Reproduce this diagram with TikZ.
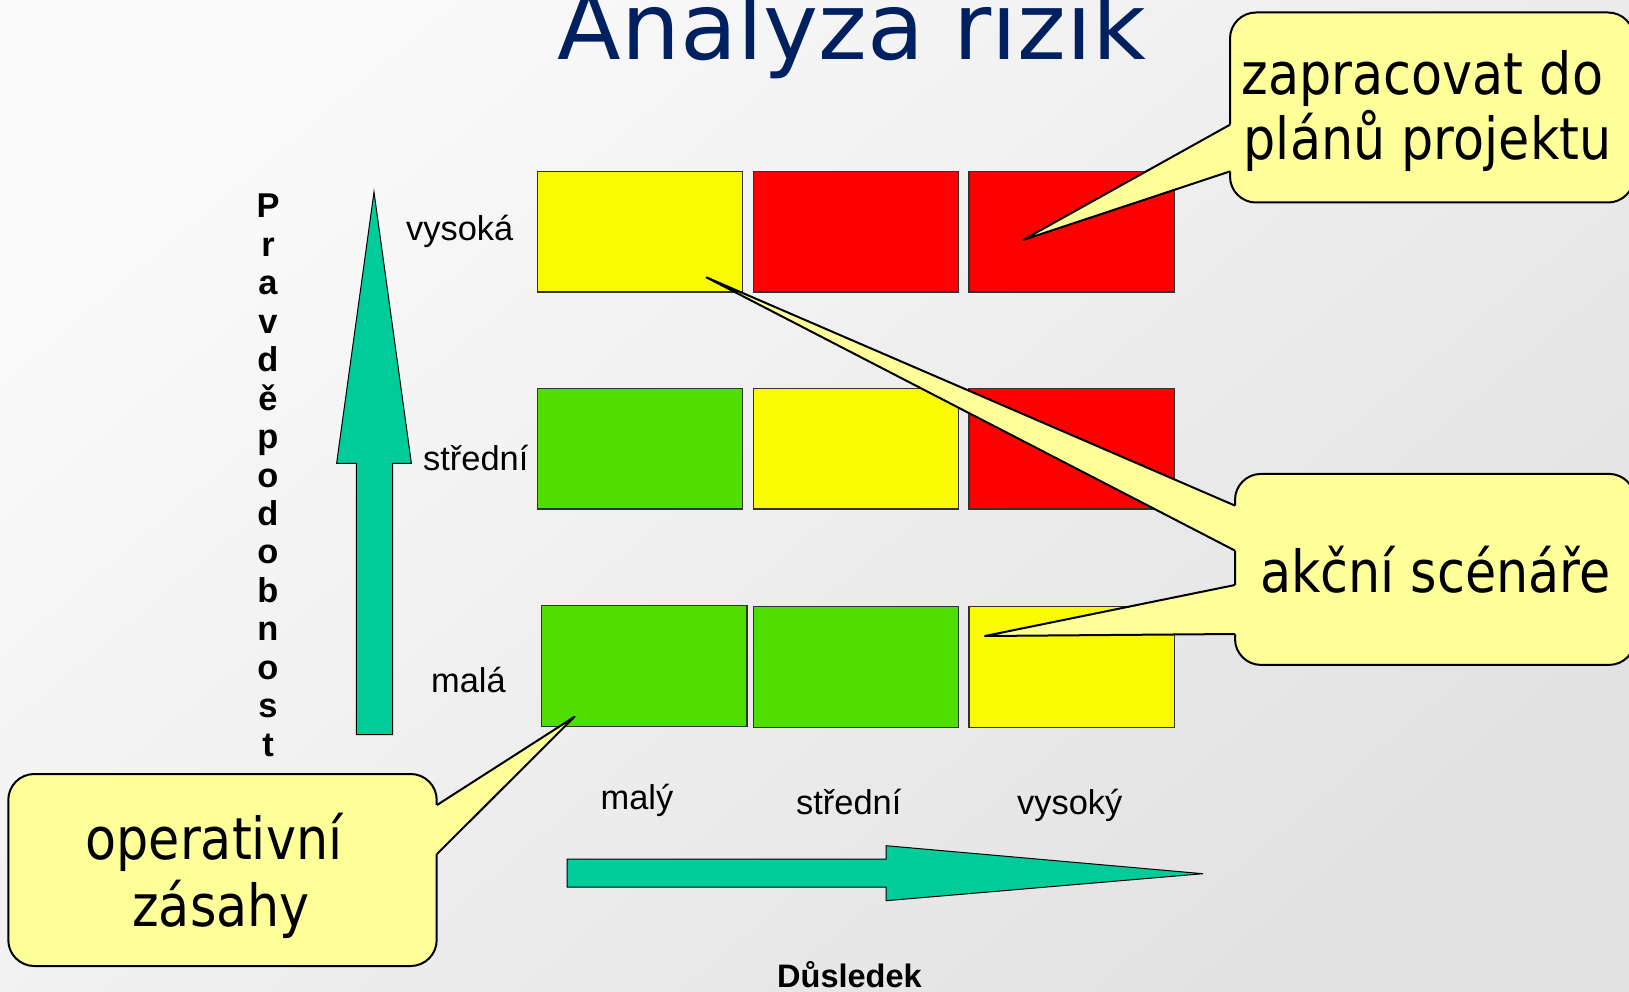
\documentclass[tikz,border=0pt]{standalone}
\usepackage{fontspec}
\newfontfamily\tahfont{DejaVu Sans}[FakeStretch=0.875]
\newfontfamily\verdfont{DejaVu Sans}
\newfontfamily\arifont{Liberation Sans}
\definecolor{titlenavy}{RGB}{0,32,96}
\definecolor{cellyellow}{RGB}{250,250,0}
\definecolor{cellred}{RGB}{255,0,0}
\definecolor{cellgreen}{RGB}{80,221,0}
\definecolor{cellborder}{RGB}{50,50,50}
\definecolor{arrowteal}{RGB}{0,204,153}
\definecolor{callfill}{RGB}{255,255,153}
\definecolor{bglight}{RGB}{250,250,250}
\definecolor{bgdark}{RGB}{226,226,226}
\begin{document}
\begin{tikzpicture}[x=1pt,y=-1pt,
  cell/.style={draw=cellborder, line width=1.3pt, minimum width=205.5pt, minimum height=120.5pt, inner sep=0pt},
  bigarrow/.style={fill=arrowteal, draw=black, line width=1pt, line join=miter},
  callbox/.style={fill=callfill, draw=black, line width=2pt, rounded corners=26pt, inner sep=0pt},
  wedgefill/.style={fill=callfill},
  wedgeline/.style={draw=black, line width=2pt, line join=round},
  calltext/.style={font=\tahfont\fontsize{58}{68}\selectfont, inner sep=0pt},
  axislab/.style={font=\arifont\fontsize{34.4}{40}\selectfont, inner sep=0pt},
  axisbold/.style={font=\arifont\bfseries\fontsize{34.4}{40}\selectfont, inner sep=0pt},
  axisboldb/.style={font=\arifont\bfseries\fontsize{32.5}{38}\selectfont, inner sep=0pt},
  titletext/.style={font=\verdfont\fontsize{93}{100}\selectfont, text=titlenavy, inner sep=0pt}
]
\useasboundingbox (0,0) rectangle (1629,992);
\clip (0,0) rectangle (1629,992);
\shade[top color=bglight, bottom color=bgdark, shading angle=40] (0,0) rectangle (1629,992);

% title
\node[titletext, anchor=base] (title) at (852,60) {Analyza rizik};

% matrix cells
\node[cell, fill=cellyellow] (c11) at (640,231.6) {};
\node[cell, fill=cellred]    (c12) at (856,231.6) {};
\node[cell, fill=cellred]    (c13) at (1071.6,231.6) {};
\node[cell, fill=cellgreen]  (c21) at (640,448.8) {};
\node[cell, fill=cellyellow] (c22) at (856,448.8) {};
\node[cell, fill=cellred]    (c23) at (1071.6,448.8) {};
\node[cell, fill=cellgreen]  (c31) at (644.2,666) {};
\node[cell, fill=cellgreen]  (c32) at (856,666.9) {};
\node[cell, fill=cellyellow] (c33) at (1071.6,666.9) {};

% axis arrows
\draw[bigarrow] (374,192) -- (411.4,463.4) -- (392.7,463.4) -- (392.7,734.5)
  -- (356.3,734.5) -- (356.3,463.4) -- (336.6,463.4) -- cycle;
\draw[bigarrow] (567,859) -- (886,859) -- (886,845.7) -- (1203,873.7)
  -- (886,900.7) -- (886,887) -- (567,887) -- cycle;

% row labels
\node[axislab, anchor=base west] (rh) at (406,241) {vysoká};
\node[axislab, anchor=base west] (rm) at (423,470.6) {střední};
\node[axislab, anchor=base west] (rl) at (431,692) {malá};
% column labels
\node[axislab, anchor=base west] (kl) at (600.5,809) {malý};
\node[axislab, anchor=base west] (km) at (796,814.5) {střední};
\node[axislab, anchor=base west] (kh) at (1017,814.5) {vysoký};
\node[axisboldb, anchor=base west] (dus) at (777,987) {Důsledek};
% vertical label
\foreach \ch [count=\i] in {P,r,a,v,d,ě,p,o,d,o,b,n,o,s,t}
  \node[axisbold, anchor=base] (v\i) at (268,{218+(\i-1)*38.43}) {\ch};

% callout 1
\node[callbox, minimum width=404pt, minimum height=190pt] (cb1) at (1432,107.5) {};
\coordinate (t1) at (1023,240);
\coordinate (w1a) at (1230,124.7);
\coordinate (w1b) at (1230,171.4);
\fill[wedgefill] (w1a) -- (t1) -- (w1b) -- ([xshift=5pt]w1b) -- ([xshift=5pt]w1a) -- cycle;
\draw[wedgeline] (w1a) -- (t1) -- (w1b);
\node[calltext, anchor=base west] (l1a) at (1241.5,95) {zapracovat do};
\node[calltext, anchor=base west] (l1b) at (1243.5,160) {plánů projektu};

% callout 2
\node[callbox, minimum width=400pt, minimum height=191pt] (cb2) at (1435,569.4) {};
\coordinate (t2) at (706.5,277.4);
\coordinate (w2a) at (1235,505.6);
\coordinate (w2b) at (1235,550.6);
\coordinate (t3) at (985,636);
\coordinate (w3a) at (1235,585);
\coordinate (w3b) at (1235,634);
\fill[wedgefill] (w2a) -- (t2) -- (w2b) -- ([xshift=5pt]w2b) -- ([xshift=5pt]w2a) -- cycle;
\draw[wedgeline] (w2a) -- (t2) -- (w2b);
\fill[wedgefill] (w3a) -- (t3) -- (w3b) -- ([xshift=5pt]w3b) -- ([xshift=5pt]w3a) -- cycle;
\draw[wedgeline] (w3a) -- (t3) -- (w3b);
\node[calltext, anchor=base west] (l2) at (1260,592) {akční scénáře};

% callout 3
\node[callbox, minimum width=428.4pt, minimum height=192pt] (cb3) at (222.5,870) {};
\coordinate (t4) at (574.5,716.8);
\coordinate (w4a) at (437,805);
\coordinate (w4b) at (437,854);
\fill[wedgefill] (w4a) -- (t4) -- (w4b) -- ([xshift=-5pt]w4b) -- ([xshift=-5pt]w4a) -- cycle;
\draw[wedgeline] (w4a) -- (t4) -- (w4b);
\node[calltext, anchor=base] (l3a) at (214,859) {operativní};
\node[calltext, anchor=base] (l3b) at (221,926) {zásahy};
\end{tikzpicture}
\end{document}
